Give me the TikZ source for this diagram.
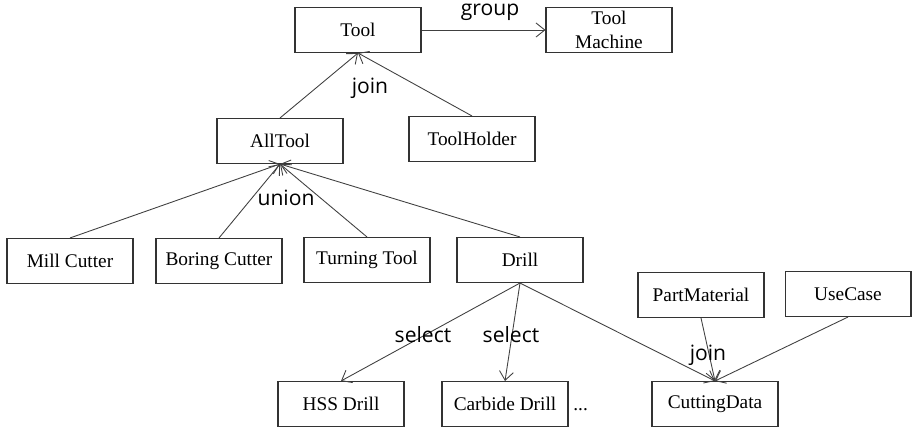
\documentclass[tikz,border=0pt]{standalone}
\usepackage{fontspec}
\setmainfont{Liberation Serif}
\newfontfamily\labelfont{Open Sans}
\usetikzlibrary{positioning,arrows.meta}

\begin{document}
\begin{tikzpicture}[x=0.02cm,y=-0.02cm,
    block/.style={draw=black!80, line width=0.6pt, minimum width=2.52cm, minimum height=0.9cm,
        inner sep=1pt, align=center, font=\fontsize{11}{13.5}\selectfont},
    rel/.style={inner sep=0pt, font=\labelfont\fontsize{12}{12}\selectfont},
    link/.style={draw=black!75, line width=0.5pt, -{Straight Barb[length=5pt,width=8pt]}}]
    \useasboundingbox (0,0) rectangle (915,428);

    \node[block] (tool) at (358,30) {Tool};
    \node[block, inner sep=0pt] (machine) at (609,30) {Tool\\Machine};
    \node[block] (alltool) at (280,141) {AllTool};
    \node[block] (holder) at (472,139) {ToolHolder};

    \node[block] (mill) at (70,261) {Mill Cutter};
    \node[block] (boring) at (219,261) {Boring Cutter};
    \node[block] (turning) at (367,260) {Turning Tool};
    \node[block] (drill) at (520,260) {Drill};

    \node[block] (material) at (701,295) {PartMaterial};
    \node[block] (usecase) at (848,294) {UseCase};

    \node[block] (hss) at (341,404) {HSS Drill};
    \node[block] (carbide) at (505,404) {Carbide Drill};
    \node[block] (cutting) at (715,404) {CuttingData};
    \node[anchor=base west, inner sep=0pt, font=\fontsize{11}{11}\selectfont] (more) at (573,410) {...};

    \draw[link] (tool) -- (machine);
    \draw[link] (alltool.north) -- (tool.south);
    \draw[link] (holder.north) -- (tool.south);
    \draw[link] (mill.north) -- (alltool.south);
    \draw[link] (boring.north) -- (alltool.south);
    \draw[link] (turning.north) -- (alltool.south);
    \draw[link] (drill.north) -- (alltool.south);
    \draw[link] (drill.south) -- (hss.north);
    \draw[link] (drill.south) -- (carbide.north);
    \draw[link] (drill.south) -- (cutting.north);
    \draw[link] (material.south) -- (cutting.north);
    \draw[link] (usecase.south) -- (cutting.north);

    \node[rel] (group) at (490,12) {group};
    \node[rel] (jointool) at (370,88) {join};
    \node[rel] (union) at (286,198) {union};
    \node[rel] (selhss) at (423,335) {select};
    \node[rel] (selcarb) at (511,335) {select};
    \node[rel] (joindata) at (708,355) {join};
\end{tikzpicture}
\end{document}
